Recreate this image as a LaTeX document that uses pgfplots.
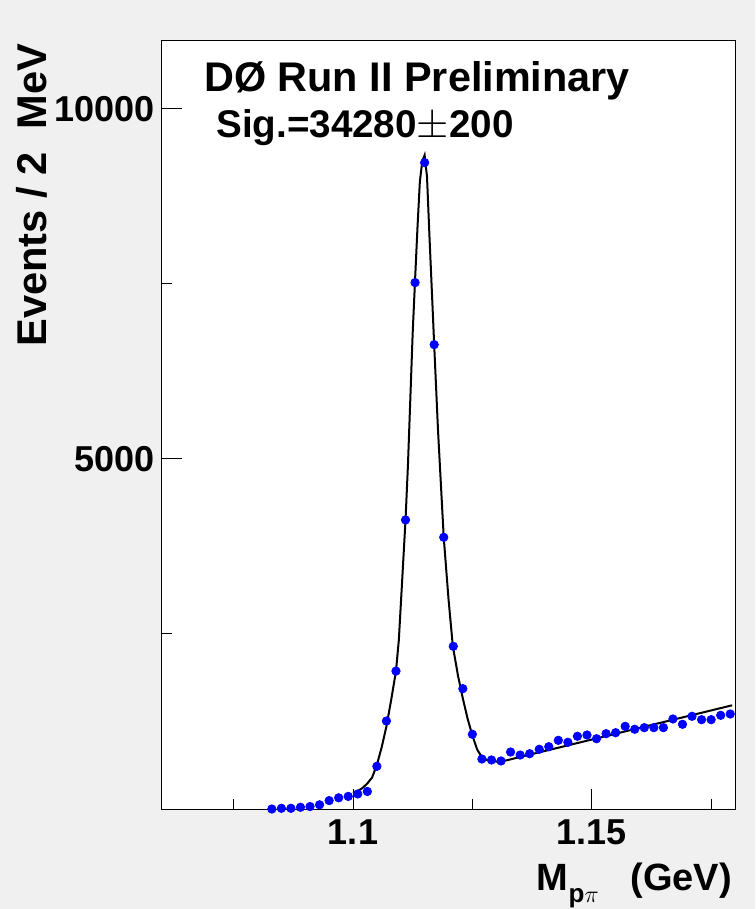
\documentclass[border=0pt]{standalone}
\usepackage{pgfplots}
\pgfplotsset{compat=1.18}
\usepackage{fontspec}
\setmainfont{Liberation Sans}
\definecolor{canvasbg}{RGB}{240,240,240}
\definecolor{ptblue}{RGB}{0,0,255}
\pgfplotstableread{
x y
1.083 0
1.085 10
1.087 10
1.089 25
1.091 35
1.093 60
1.095 120
1.097 160
1.099 180
1.101 215
1.103 250
1.105 610
1.107 1257
1.109 1970
1.111 4129
1.113 7519
1.115 9233
1.117 6633
1.119 3881
1.121 2324
1.123 1719
1.125 1067
1.127 714
1.129 700
1.131 686
1.133 814
1.135 771
1.137 790
1.139 853
1.141 890
1.143 981
1.145 953
1.147 1039
1.149 1057
1.151 1004
1.153 1076
1.155 1090
1.157 1181
1.159 1139
1.161 1162
1.163 1162
1.165 1162
1.167 1286
1.169 1210
1.171 1324
1.173 1276
1.175 1276
1.177 1338
1.179 1357
}\datatable
\pgfplotstableread{
x y
1.1000 225
1.1010 255
1.1020 300
1.1030 365
1.1040 450
1.1050 630
1.1060 880
1.1070 1180
1.1080 1560
1.1090 1971
1.1096 2414
1.1103 3271
1.1110 4129
1.1115 4900
1.1120 5850
1.1125 6800
1.1130 7560
1.1135 8300
1.1140 8960
1.1145 9250
1.1150 9340
1.1155 9030
1.1160 8200
1.1165 7420
1.1170 6633
1.1178 5414
1.1185 4520
1.1190 3881
1.1200 3000
1.1209 2330
1.1220 1900
1.1230 1580
1.1240 1290
1.1250 1050
1.1260 850
1.1270 740
1.1280 700
1.1293 680
1.1310 676
1.1794 1481
}\fittable
\begin{document}
\begin{tikzpicture}
\path[use as bounding box, fill=canvasbg] (-81pt,-50pt) rectangle (296.5pt,404.5pt);
\begin{axis}[
  at={(0pt,0pt)}, anchor=south west,
  scale only axis, width=286.5pt, height=384pt,
  xmin=1.06, xmax=1.18, ymin=0, ymax=10970,
  scaled ticks=false,
  axis background/.style={fill=white},
  axis line style={line width=0.5pt},
  tick pos=left, tick align=inside,
  xtick={1.1,1.15}, xticklabels={1.1,1.15},
  minor xtick={1.075,1.125,1.175},
  ytick={5000,10000}, yticklabels={5000,10000},
  minor ytick={2500,7500},
  major tick length=10pt, minor tick length=5pt,
  every tick/.style={black, line width=0.5pt},
  ticklabel style={font=\fontsize{18}{18}\selectfont\bfseries},
  xticklabel style={yshift=-2pt},
  xlabel={M\raisebox{-0.6ex}{\fontsize{13}{13}\selectfont p$\pi$}\ \ \ (GeV)},
  xlabel style={at={(axis description cs:0.995,-0.1055)}, anchor=base east, inner sep=0pt, font=\fontsize{19}{19}\selectfont\bfseries},
  ylabel={Events / 2\ \ MeV},
  ylabel style={at={(axis description cs:-0.2007,0.997)}, anchor=base east, inner sep=0pt, font=\fontsize{20.8}{20.8}\selectfont\bfseries},
  clip=false,
]
\addplot[black, line width=1pt, no markers] table[x=x, y=y] {\fittable};
\addplot[only marks, mark=*, mark size=2.1pt, ptblue, mark options={draw=ptblue, fill=ptblue}] table[x=x, y=y] {\datatable};
\node[anchor=base west, inner sep=0pt, font=\fontsize{20.7}{20.7}\selectfont\bfseries] at (axis description cs:0.073,0.934) {DØ Run II Preliminary};
\node[anchor=base west, inner sep=0pt, font=\fontsize{19.3}{19.3}\selectfont\bfseries] at (axis description cs:0.094,0.8737) {Sig.=34280$\pm$200};
\end{axis}
\end{tikzpicture}
\end{document}
